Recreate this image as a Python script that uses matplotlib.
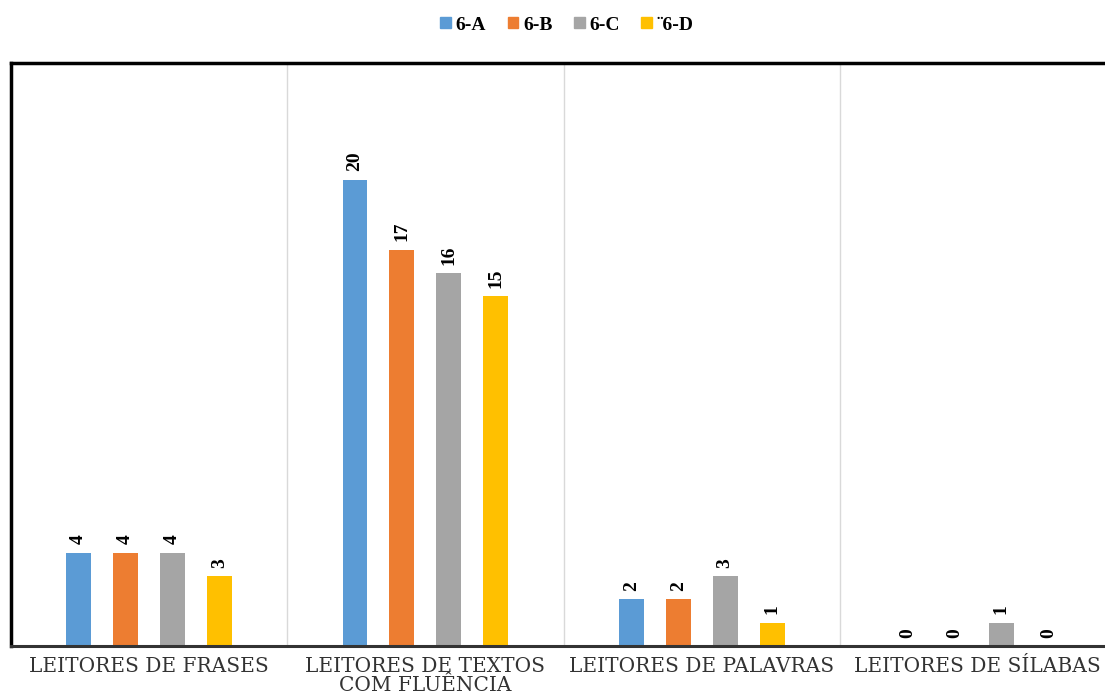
import matplotlib.pyplot as plt
from matplotlib.patches import Patch
import numpy as np

categories = ['LEITORES DE FRASES', 'LEITORES DE TEXTOS\nCOM FLUÊNCIA',
              'LEITORES DE PALAVRAS', 'LEITORES DE SÍLABAS']
series = ['6-A', '6-B', '6-C', '¨6-D']
values = {
    '6-A': [4, 20, 2, 0],
    '6-B': [4, 17, 2, 0],
    '6-C': [4, 16, 3, 1],
    '¨6-D': [3, 15, 1, 0],
}
colors = ['#5B9BD5', '#ED7D31', '#A5A5A5', '#FFC000']

W, H = 1105, 700
fig = plt.figure(figsize=(W / 100, H / 100), dpi=100)
ax = fig.add_axes([11 / W, 54 / H, (1116 - 11) / W, (646 - 63) / H])

x = np.arange(len(categories))
step = 0.17
width = 0.09
for i, (name, c) in enumerate(zip(series, colors)):
    xs = x + (i - 1.5) * step
    ax.bar(xs, values[name], width=width, color=c, zorder=2)
    for xi, v in zip(xs, values[name]):
        ax.annotate(str(v), (xi, v), xytext=(0, 6), textcoords='offset points',
                    rotation=90, ha='center', va='bottom',
                    family='Liberation Serif', fontweight='bold', fontsize=14)

ax.set_xlim(-0.5, 3.5)
ax.set_ylim(0, 25)
for b in [0.5, 1.5, 2.5]:
    ax.axvline(b, color='#D9D9D9', lw=1, zorder=1)

ax.set_yticks([])
ax.set_xticks(x)
ax.set_xticklabels(categories, family='DejaVu Serif', fontsize=14.5,
                   color='#333333', linespacing=1.0)
ax.tick_params(axis='x', length=0, pad=8)

for s in ['left', 'top']:
    ax.spines[s].set_linewidth(2.5)
    ax.spines[s].set_color('black')
ax.spines['bottom'].set_linewidth(2.2)
ax.spines['bottom'].set_color('#333333')
ax.spines['right'].set_visible(False)

handles = [Patch(color=c) for c in colors]
fig.legend(handles, series, loc='center', bbox_to_anchor=(567 / W, 1 - 25 / H),
           ncol=4, frameon=False, handlelength=0.55, handleheight=0.55,
           handletextpad=0.25, columnspacing=1.1,
           prop={'family': 'Liberation Serif', 'weight': 'bold', 'size': 14})

fig.savefig('out.png', dpi=100)
